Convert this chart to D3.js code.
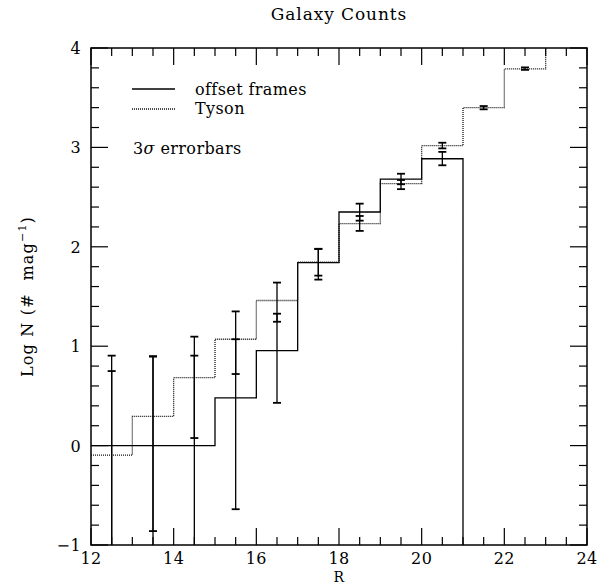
<!DOCTYPE html>
<html>
<head>
<meta charset="utf-8">
<script src="https://cdn.jsdelivr.net/npm/d3@7"></script>
<style>
  body { margin: 0; background: #fff; }
  text { font-family: "DejaVu Serif", serif; fill: #000; white-space: pre; letter-spacing: 0.4px; }
</style>
</head>
<body>
<script>
// bin left edges (R mag) and log counts
var offsetEdges = [12, 13, 14, 15, 16, 17, 18, 19, 20, 21];
var offsetLogN  = [0, 0, 0, 0.48, 0.955, 1.84, 2.35, 2.68, 2.886, -2];
var tysonEdges  = [12, 13, 14, 15, 16, 17, 18, 19, 20, 21, 22, 23];
var tysonLogN   = [-0.095, 0.295, 0.683, 1.07, 1.46, 1.845, 2.233, 2.635, 3.017, 3.40, 3.79, 4.19];

// 3 sigma error bars at bin centres (low, high); -2 means off the bottom
var errCentres = [12.5, 13.5, 14.5, 15.5, 16.5, 17.5, 18.5, 19.5, 20.5];
var offsetLo = [-2, -0.86, -2, -0.64, 0.43, 1.67, 2.16, 2.58, 2.82];
var offsetHi = [0.905, 0.9, 1.096, 1.35, 1.64, 1.98, 2.434, 2.735, 2.955];
var tysonCentres = [12.5, 13.5, 14.5, 15.5, 16.5, 17.5, 18.5, 19.5, 20.5, 21.5, 22.5];
var tysonLo = [-2, -2, 0.076, 0.72, 1.246, 1.71, 2.263, 2.629, 2.99, 3.383, 3.78];
var tysonHi = [0.75, 0.895, 0.905, 1.07, 1.327, 1.978, 2.31, 2.672, 3.047, 3.416, 3.805];

var xTicks = [12, 14, 16, 18, 20, 22, 24];
var yTicks = [-1, 0, 1, 2, 3, 4];

var W = 605, H = 586;
var svg = d3.select("body").append("svg").attr("width", W).attr("height", H);

var x = d3.scaleLinear().domain([12, 24]).range([91, 587]);
var y = d3.scaleLinear().domain([-1, 4]).range([545, 48]);

svg.append("clipPath").attr("id", "plotclip")
  .append("rect")
    .attr("x", x(12)).attr("y", y(4))
    .attr("width", x(24) - x(12)).attr("height", y(-1) - y(4));

var plot = svg.append("g").attr("clip-path", "url(#plotclip)");

// minor / major ticks on all four sides
var xMinor = d3.range(12, 24.01, 0.5);
var yMinor = d3.range(-1, 4.01, 0.2);
function isMajorX(v) { return Math.abs(v / 2 - Math.round(v / 2)) < 1e-6; }
function isMajorY(v) { return Math.abs(v - Math.round(v)) < 1e-6; }

var ticks = svg.append("g").attr("stroke", "#000").attr("stroke-width", 1.2);
xMinor.forEach(function(v) {
  var len = isMajorX(v) ? 17 : 8;
  ticks.append("line").attr("x1", x(v)).attr("x2", x(v)).attr("y1", y(-1)).attr("y2", y(-1) - len);
  ticks.append("line").attr("x1", x(v)).attr("x2", x(v)).attr("y1", y(4)).attr("y2", y(4) + len);
});
yMinor.forEach(function(v) {
  var len = isMajorY(v) ? 17 : 8;
  ticks.append("line").attr("x1", x(12)).attr("x2", x(12) + len).attr("y1", y(v)).attr("y2", y(v));
  ticks.append("line").attr("x1", x(24)).attr("x2", x(24) - len).attr("y1", y(v)).attr("y2", y(v));
});

// frame
svg.append("rect")
  .attr("x", x(12)).attr("y", y(4))
  .attr("width", x(24) - x(12)).attr("height", y(-1) - y(4))
  .attr("fill", "none").attr("stroke", "#000").attr("stroke-width", 1.5);

// tick labels
svg.selectAll(".xl").data(xTicks).enter().append("text")
  .attr("x", function(d) { return x(d); })
  .attr("y", 564)
  .attr("text-anchor", "middle")
  .style("font-size", "16px")
  .text(function(d) { return d; });

svg.selectAll(".yl").data(yTicks).enter().append("text")
  .attr("x", 81)
  .attr("y", function(d) { return y(d) + 6; })
  .attr("text-anchor", "end")
  .style("font-size", "16px")
  .text(function(d) { return d < 0 ? "\u2212" + Math.abs(d) : d; });

// histograms
var step = d3.line().curve(d3.curveStepAfter)
  .x(function(d) { return x(d[0]); })
  .y(function(d) { return y(d[1]); });

var offsetPts = offsetEdges.map(function(e, i) { return [e, offsetLogN[i]]; });
offsetPts.push([22, offsetLogN[offsetLogN.length - 1]]);
var tysonPts = tysonEdges.map(function(e, i) { return [e, tysonLogN[i]]; });
tysonPts.push([24, tysonLogN[tysonLogN.length - 1]]);

plot.append("path").datum(offsetPts)
  .attr("d", step).attr("fill", "none")
  .attr("stroke", "#000").attr("stroke-width", 1.3);

plot.append("path").datum(tysonPts)
  .attr("d", step).attr("fill", "none")
  .attr("stroke", "#111").attr("stroke-width", 1.3)
  .attr("stroke-dasharray", "1,1");

// error bars
function errorBars(centres, lo, hi) {
  var g = plot.append("g").attr("stroke", "#000");
  centres.forEach(function(c, i) {
    g.append("line")
      .attr("x1", x(c)).attr("x2", x(c))
      .attr("y1", y(lo[i])).attr("y2", y(hi[i]))
      .attr("stroke-width", 1.3);
    [lo[i], hi[i]].forEach(function(v) {
      g.append("line")
        .attr("x1", x(c) - 4).attr("x2", x(c) + 4)
        .attr("y1", y(v)).attr("y2", y(v))
        .attr("stroke-width", 1.8);
    });
  });
}
errorBars(errCentres, offsetLo, offsetHi);
errorBars(tysonCentres, tysonLo, tysonHi);

// legend
svg.append("line").attr("x1", 132).attr("x2", 175).attr("y1", 89).attr("y2", 89)
  .attr("stroke", "#000").attr("stroke-width", 1.3);
svg.append("text").attr("x", 195).attr("y", 95).style("font-size", "16px").text("offset frames");
svg.append("line").attr("x1", 132).attr("x2", 175).attr("y1", 109).attr("y2", 109)
  .attr("stroke", "#111").attr("stroke-width", 1.3).attr("stroke-dasharray", "1,1");
svg.append("text").attr("x", 195).attr("y", 114).style("font-size", "16px").text("Tyson");

var eb = svg.append("text").attr("x", 133).attr("y", 154).style("font-size", "16px");
eb.append("tspan").text("3");
eb.append("tspan").style("font-style", "italic").text("\u03c3");
eb.append("tspan").text(" errorbars");

// titles
svg.append("text")
  .attr("x", (x(12) + x(24)) / 2).attr("y", 20)
  .attr("text-anchor", "middle").style("font-size", "17px")
  .style("letter-spacing", "0.9px")
  .text("Galaxy Counts");

svg.append("text")
  .attr("x", (x(12) + x(24)) / 2).attr("y", 582)
  .attr("text-anchor", "middle").style("font-size", "14px")
  .text("R");

var yl = svg.append("text")
  .attr("transform", "translate(33," + ((y(-1) + y(4)) / 2) + ")rotate(-90)")
  .attr("text-anchor", "middle").style("font-size", "16px")
  .style("letter-spacing", "1.2px");
yl.append("tspan").text("Log N (#  mag");
yl.append("tspan").attr("dy", -7).style("font-size", "11px").text("\u22121");
yl.append("tspan").attr("dy", 7).text(")");
</script>
</body>
</html>
